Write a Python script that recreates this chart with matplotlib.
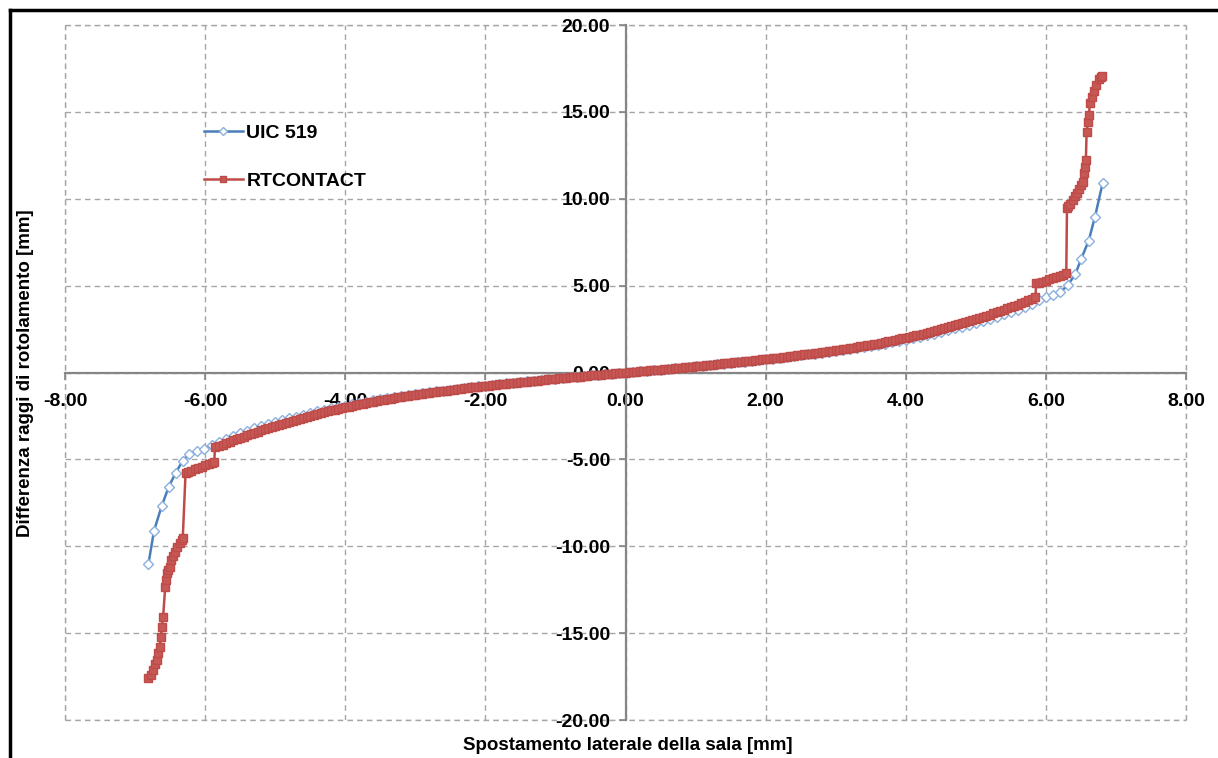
import matplotlib.pyplot as plt
from matplotlib.lines import Line2D
import numpy as np

plt.rcParams['font.family'] = ['Liberation Sans', 'DejaVu Sans']
plt.rcParams['axes.unicode_minus'] = False

# UIC 519 - lato sinistro e lato destro
uic_x_sx = [-6.81, -6.73, -6.62, -6.52, -6.42, -6.32, -6.23, -6.12, -6.01,
            -5.9, -5.8, -5.7, -5.6, -5.5, -5.4, -5.3, -5.2, -5.1, -5.0,
            -4.9, -4.8, -4.7, -4.6, -4.5, -4.4, -4.3, -4.2, -4.1, -4.0,
            -3.9, -3.8, -3.7, -3.6, -3.5, -3.4, -3.3, -3.2, -3.1, -3.0,
            -2.9, -2.8, -2.7, -2.6, -2.5, -2.4, -2.3, -2.2, -2.1, -2.0,
            -1.9, -1.8, -1.7, -1.6, -1.5, -1.4, -1.3, -1.2, -1.1, -1.0,
            -0.9, -0.8, -0.7, -0.6, -0.5, -0.4, -0.3, -0.2, -0.1]
uic_y_sx = [-11.02, -9.10, -7.68, -6.57, -5.77, -5.07, -4.71, -4.50, -4.38,
            -4.18, -3.98, -3.80, -3.64, -3.49, -3.35, -3.22, -3.09, -2.97, -2.86,
            -2.75, -2.64, -2.54, -2.44, -2.34, -2.24, -2.15, -2.06, -1.98, -1.90,
            -1.82, -1.74, -1.67, -1.60, -1.54, -1.48, -1.42, -1.36, -1.30, -1.25,
            -1.19, -1.14, -1.09, -1.04, -0.99, -0.94, -0.89, -0.85, -0.80, -0.76,
            -0.71, -0.67, -0.63, -0.59, -0.55, -0.51, -0.47, -0.43, -0.40, -0.36,
            -0.32, -0.28, -0.25, -0.21, -0.17, -0.14, -0.10, -0.07, -0.03]
uic_x_dx = [0.0, 0.1, 0.2, 0.3, 0.4, 0.5, 0.6, 0.7, 0.8, 0.9,
            1.0, 1.1, 1.2, 1.3, 1.4, 1.5, 1.6, 1.7, 1.8, 1.9,
            2.0, 2.1, 2.2, 2.3, 2.4, 2.5, 2.6, 2.7, 2.8, 2.9,
            3.0, 3.1, 3.2, 3.3, 3.4, 3.5, 3.6, 3.7, 3.8, 3.9,
            4.0, 4.1, 4.2, 4.3, 4.4, 4.5, 4.6, 4.7, 4.8, 4.9,
            5.0, 5.1, 5.2, 5.3, 5.4, 5.5, 5.6, 5.7, 5.8, 5.9,
            6.0, 6.1, 6.2, 6.31, 6.42, 6.50, 6.61, 6.70, 6.81]
uic_y_dx = [0.00, 0.03, 0.07, 0.10, 0.14, 0.17, 0.21, 0.25, 0.28, 0.32,
            0.36, 0.40, 0.43, 0.47, 0.51, 0.55, 0.59, 0.63, 0.67, 0.71,
            0.76, 0.80, 0.85, 0.89, 0.94, 0.99, 1.04, 1.09, 1.14, 1.19,
            1.25, 1.30, 1.36, 1.42, 1.48, 1.54, 1.60, 1.67, 1.74, 1.82,
            1.90, 1.98, 2.06, 2.15, 2.24, 2.34, 2.44, 2.54, 2.64, 2.75,
            2.86, 2.97, 3.09, 3.21, 3.34, 3.47, 3.62, 3.78, 3.96, 4.15,
            4.33, 4.48, 4.61, 5.02, 5.67, 6.51, 7.59, 8.97, 10.92]

# RTCONTACT - lato sinistro
rt_x_sx = [-6.81, -6.77, -6.74, -6.71, -6.69, -6.67, -6.65, -6.63, -6.62,
           -6.60, -6.57, -6.56, -6.55, -6.53, -6.50, -6.49, -6.46, -6.43,
           -6.40, -6.36, -6.33, -6.32, -6.28, -6.25, -6.2, -6.15, -6.1, -6.05,
           -6.0, -5.95, -5.9, -5.87, -5.86,
           -5.80, -5.75, -5.70, -5.65, -5.60, -5.55, -5.50, -5.45, -5.40, -5.35,
           -5.30, -5.25, -5.20, -5.15, -5.10, -5.05, -5.00, -4.95, -4.90, -4.85,
           -4.80, -4.75, -4.70, -4.65, -4.60, -4.55, -4.50, -4.45, -4.40, -4.35,
           -4.30, -4.25, -4.20, -4.15, -4.10, -4.05, -4.00, -3.95, -3.90, -3.85,
           -3.80, -3.75, -3.70, -3.65, -3.60, -3.55, -3.50, -3.45, -3.40, -3.35,
           -3.30, -3.25, -3.20, -3.15, -3.10, -3.05, -3.00, -2.95, -2.90, -2.85,
           -2.80, -2.75, -2.70, -2.65, -2.60, -2.55, -2.50, -2.45, -2.40, -2.35,
           -2.30, -2.25, -2.20, -2.15, -2.10, -2.05, -2.00, -1.95, -1.90, -1.85,
           -1.80, -1.75, -1.70, -1.65, -1.60, -1.55, -1.50, -1.45, -1.40, -1.35,
           -1.30, -1.25, -1.20, -1.15, -1.10, -1.05, -1.00, -0.95, -0.90, -0.85,
           -0.80, -0.75, -0.70, -0.65, -0.60, -0.55, -0.50, -0.45, -0.40, -0.35,
           -0.30, -0.25, -0.20, -0.15, -0.10, -0.05]
rt_y_sx = [-17.60, -17.40, -17.12, -16.80, -16.55, -16.15, -15.78, -15.20, -14.63,
           -14.05, -12.33, -11.95, -11.56, -11.35, -11.18, -10.79, -10.55, -10.31,
           -10.05, -9.83, -9.62, -9.54, -5.79, -5.74, -5.66, -5.58, -5.50, -5.42,
           -5.35, -5.27, -5.19, -5.13, -4.30,
           -4.24, -4.15, -4.07, -3.99, -3.91, -3.84, -3.76, -3.69, -3.61, -3.54,
           -3.47, -3.40, -3.33, -3.27, -3.20, -3.14, -3.07, -3.01, -2.95, -2.89,
           -2.83, -2.77, -2.71, -2.66, -2.60, -2.55, -2.49, -2.44, -2.38, -2.33,
           -2.28, -2.23, -2.18, -2.14, -2.09, -2.05, -2.00, -1.96, -1.91, -1.87,
           -1.83, -1.79, -1.75, -1.71, -1.67, -1.64, -1.60, -1.57, -1.53, -1.50,
           -1.46, -1.43, -1.40, -1.37, -1.34, -1.31, -1.28, -1.25, -1.22, -1.19,
           -1.16, -1.14, -1.11, -1.09, -1.06, -1.04, -1.01, -0.99, -0.96, -0.94,
           -0.91, -0.89, -0.86, -0.84, -0.81, -0.79, -0.77, -0.75, -0.72, -0.70,
           -0.68, -0.66, -0.64, -0.62, -0.60, -0.58, -0.56, -0.54, -0.52, -0.50,
           -0.48, -0.46, -0.44, -0.42, -0.40, -0.38, -0.36, -0.34, -0.32, -0.30,
           -0.28, -0.27, -0.25, -0.23, -0.21, -0.19, -0.17, -0.16, -0.14, -0.12,
           -0.10, -0.09, -0.07, -0.05, -0.03, -0.02]

# RTCONTACT - lato destro
rt_x_dx = [0.00, 0.05, 0.10, 0.15, 0.20, 0.25, 0.30, 0.35, 0.40, 0.45,
           0.50, 0.55, 0.60, 0.65, 0.70, 0.75, 0.80, 0.85, 0.90, 0.95,
           1.00, 1.05, 1.10, 1.15, 1.20, 1.25, 1.30, 1.35, 1.40, 1.45,
           1.50, 1.55, 1.60, 1.65, 1.70, 1.75, 1.80, 1.85, 1.90, 1.95,
           2.00, 2.05, 2.10, 2.15, 2.20, 2.25, 2.30, 2.35, 2.40, 2.45,
           2.50, 2.55, 2.60, 2.65, 2.70, 2.75, 2.80, 2.85, 2.90, 2.95,
           3.00, 3.05, 3.10, 3.15, 3.20, 3.25, 3.30, 3.35, 3.40, 3.45,
           3.50, 3.55, 3.60, 3.65, 3.70, 3.75, 3.80, 3.85, 3.90, 3.95,
           4.00, 4.05, 4.10, 4.15, 4.20, 4.25, 4.30, 4.35, 4.40, 4.45,
           4.50, 4.55, 4.60, 4.65, 4.70, 4.75, 4.80, 4.85, 4.90, 4.95,
           5.00, 5.05, 5.10, 5.15, 5.20, 5.25, 5.30, 5.35, 5.40, 5.45,
           5.50, 5.55, 5.60, 5.65, 5.70, 5.75, 5.80, 5.85,
           5.86, 5.9, 5.95, 6.0, 6.05, 6.1, 6.15, 6.2, 6.25, 6.29,
           6.30, 6.32, 6.35, 6.38, 6.41, 6.44, 6.47, 6.50, 6.53, 6.55,
           6.56, 6.57, 6.58, 6.60, 6.61, 6.63, 6.65, 6.68, 6.71, 6.75,
           6.78, 6.80]
rt_y_dx = [0.00, 0.02, 0.03, 0.05, 0.07, 0.09, 0.10, 0.12, 0.14, 0.16,
           0.17, 0.19, 0.21, 0.23, 0.25, 0.27, 0.28, 0.30, 0.32, 0.34,
           0.36, 0.38, 0.40, 0.42, 0.44, 0.46, 0.48, 0.50, 0.52, 0.54,
           0.56, 0.58, 0.60, 0.62, 0.64, 0.66, 0.68, 0.70, 0.72, 0.75,
           0.77, 0.79, 0.81, 0.84, 0.86, 0.89, 0.91, 0.94, 0.96, 0.99,
           1.01, 1.04, 1.06, 1.09, 1.11, 1.14, 1.16, 1.19, 1.22, 1.25,
           1.28, 1.31, 1.34, 1.37, 1.40, 1.43, 1.46, 1.50, 1.53, 1.57,
           1.60, 1.64, 1.67, 1.71, 1.75, 1.79, 1.83, 1.87, 1.91, 1.96,
           2.00, 2.05, 2.09, 2.14, 2.18, 2.23, 2.28, 2.33, 2.38, 2.44,
           2.49, 2.55, 2.60, 2.66, 2.71, 2.77, 2.83, 2.89, 2.95, 3.01,
           3.07, 3.14, 3.20, 3.27, 3.33, 3.40, 3.47, 3.54, 3.61, 3.69,
           3.76, 3.84, 3.91, 3.99, 4.07, 4.16, 4.26, 4.36,
           5.13, 5.16, 5.23, 5.29, 5.36, 5.43, 5.50, 5.57, 5.64, 5.71,
           9.45, 9.56, 9.72, 9.92, 10.15, 10.35, 10.55, 10.78, 10.98, 11.50,
           11.85, 12.23, 13.86, 14.40, 14.80, 15.49, 15.85, 16.20, 16.55, 16.90,
           17.00, 17.06]

uic_x = uic_x_sx + uic_x_dx
uic_y = uic_y_sx + uic_y_dx
rt_x = rt_x_sx + rt_x_dx
rt_y = rt_y_sx + rt_y_dx

fig = plt.figure(figsize=(12.18, 7.58), dpi=100)
ax = fig.add_axes([0.0534, 0.0501, 0.9204, 0.9169])

ax.plot(uic_x, uic_y, color='#4a7ebb', lw=1.8, marker='D', ms=5,
        mfc='white', mec='#8cb0de', mew=1.0, label='UIC 519', zorder=3)
ax.plot(rt_x, rt_y, color='#be4b48', lw=1.8, marker='s', ms=5.8,
        mfc='#c65855', mec='#be4b48', mew=1.0, label='RTCONTACT', zorder=4)

ax.set_xlim(-8, 8)
ax.set_ylim(-20, 20)
ax.set_xticks(np.arange(-8, 8.1, 2))
ax.set_yticks(np.arange(-20, 20.1, 5))
ax.xaxis.set_major_formatter('{x:.2f}')
ax.yaxis.set_major_formatter('{x:.2f}')

# assi passanti per l'origine
ax.spines['left'].set_position(('data', 0))
ax.spines['bottom'].set_position(('data', 0))
ax.spines['top'].set_visible(False)
ax.spines['right'].set_visible(False)
for s in ('left', 'bottom'):
    ax.spines[s].set_color('#868686')
    ax.spines[s].set_linewidth(1.6)
    ax.spines[s].set_zorder(2)

ax.tick_params(axis='both', direction='out', length=5, width=1.2,
               color='#868686', labelsize=14)
ax.tick_params(axis='x', pad=10)
ax.tick_params(axis='y', pad=6)
for lab in ax.get_xticklabels() + ax.get_yticklabels():
    lab.set_fontweight('bold')

ax.grid(True, color='#a6a6a6', ls=(0, (4, 3)), lw=1.0)
ax.set_axisbelow(True)
for v in (-8, 8):
    ax.axvline(v, color='#a6a6a6', ls=(0, (4, 3)), lw=1.0, zorder=0, clip_on=False)
for v in (-20, 20):
    ax.axhline(v, color='#a6a6a6', ls=(0, (4, 3)), lw=1.0, zorder=0, clip_on=False)

fig.text(0.515, 0.016, 'Spostamento laterale della sala [mm]',
         ha='center', va='center', fontsize=13.5, fontweight='bold')
fig.text(0.021, 0.508, 'Differenza raggi di rotolamento [mm]',
         ha='center', va='center', rotation=90, fontsize=13.5, fontweight='bold')

ax.legend(loc='upper left', bbox_to_anchor=(0.108, 0.882), frameon=False,
          prop={'size': 14, 'weight': 'bold'}, labelspacing=1.55,
          handlelength=2.0, handletextpad=0.2, markerscale=0.85)

# cornice esterna
fig.add_artist(Line2D([0.0078, 0.0078], [0.0, 0.987], color='black', lw=2.5))
fig.add_artist(Line2D([0.0078, 1.0], [0.987, 0.987], color='black', lw=2.5))

fig.savefig('out.png', dpi=100)
